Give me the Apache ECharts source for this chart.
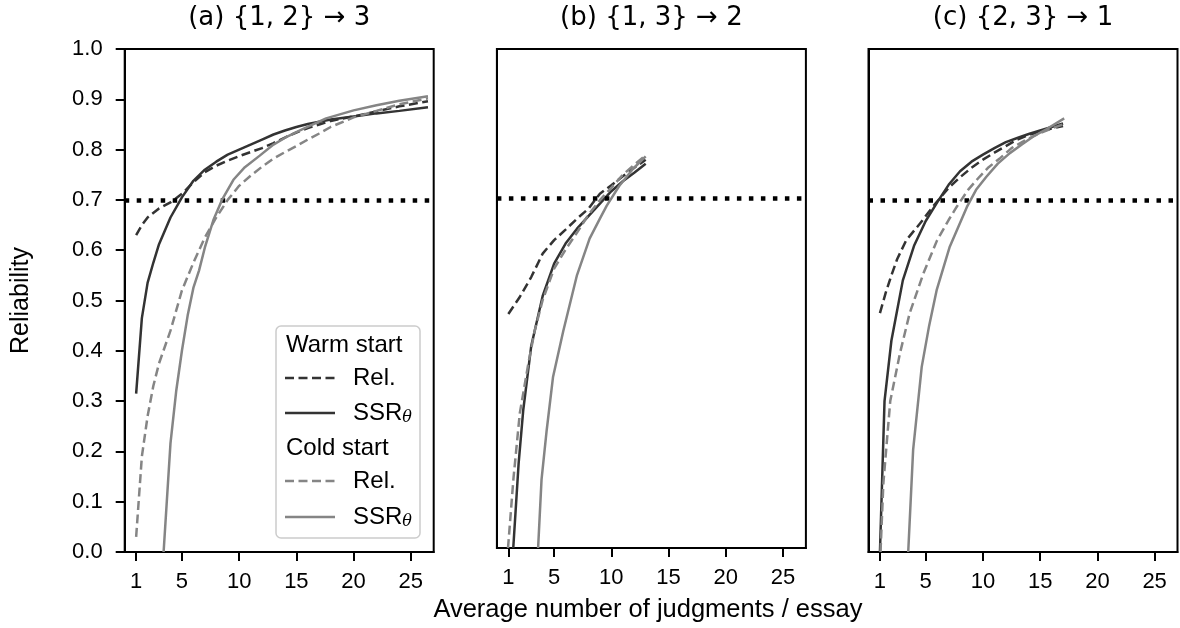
<!DOCTYPE html>
<html>
<head>
<meta charset="utf-8">
<title>Reliability</title>
<script src="https://cdn.jsdelivr.net/npm/echarts@6/dist/echarts.min.js"></script>
<style>
    html, body { margin: 0; padding: 0; background: #fff; }
    #chart { width: 1180px; height: 628px; }
</style>
</head>
<body>
<div id="chart"></div>
<script>
// 面板标题
var panelTitles = ['(a) {1, 2} \u2192 3', '(b) {1, 3} \u2192 2', '(c) {2, 3} \u2192 1'];
var xTicks = [1, 5, 10, 15, 20, 25];
var threshold = 0.7;

// (a) {1,2} -> 3   [x, reliability]
var aWarmRel = [[1,0.63],[1.5,0.65],[2,0.665],[3,0.683],[4,0.695],[5,0.712],[6,0.735],[7,0.755],[8,0.768],[9,0.778],[10,0.787],[11,0.795],[12,0.803],[13,0.813],[14,0.824],[15,0.834],[16,0.843],[17,0.85],[18,0.857],[20,0.866],[22,0.876],[24,0.886],[26.5,0.896]];
var aWarmSSR = [[1,0.315],[1.5,0.465],[2,0.535],[2.5,0.575],[3,0.612],[4,0.665],[5,0.705],[6,0.738],[7,0.76],[8,0.776],[9,0.79],[10,0.8],[11,0.81],[12,0.82],[13,0.83],[14,0.838],[15,0.845],[16,0.851],[18,0.86],[20,0.866],[22,0.872],[24,0.877],[26.5,0.884]];
var aColdRel = [[1,0.03],[1.5,0.19],[2,0.27],[2.5,0.33],[3,0.375],[4,0.44],[5,0.52],[6,0.575],[7,0.625],[8,0.665],[9,0.7],[10,0.728],[11,0.748],[12,0.766],[13,0.782],[14,0.795],[15,0.807],[16,0.82],[17,0.832],[18,0.845],[20,0.864],[22,0.877],[24,0.89],[26.5,0.902]];
var aColdSSR = [[3.4,0],[4,0.216],[4.5,0.32],[5,0.4],[5.5,0.47],[6,0.525],[6.5,0.56],[7,0.605],[7.75,0.66],[8.5,0.7],[9.5,0.74],[10.5,0.765],[11.8,0.788],[13,0.81],[14.2,0.826],[15.5,0.84],[17.6,0.862],[20,0.878],[22,0.888],[24,0.897],[26.5,0.906]];

// (b) {1,3} -> 2
var bWarmRel = [[1,0.469],[2,0.503],[3,0.543],[4,0.59],[5,0.617],[6,0.638],[7,0.66],[8,0.68],[9,0.71],[10,0.727],[11,0.745],[12,0.762],[13,0.778]];
var bWarmSSR = [[1.43,0],[1.9,0.17],[2.3,0.276],[3,0.405],[4,0.505],[5,0.57],[6,0.61],[7,0.64],[8,0.665],[9,0.69],[10,0.715],[11,0.735],[12,0.752],[13,0.77]];
var bColdRel = [[0.97,0],[1.45,0.14],[2,0.27],[2.75,0.37],[3.3,0.435],[4,0.497],[5,0.56],[6,0.598],[7,0.632],[8,0.668],[9,0.697],[10,0.722],[11,0.748],[12,0.768],[13,0.787]];
var bColdSSR = [[3.6,0],[3.9,0.137],[4.35,0.236],[4.9,0.342],[5.8,0.435],[7,0.547],[8.1,0.62],[9,0.66],[9.6,0.686],[10.7,0.726],[11.9,0.76],[13,0.785]];

// (c) {2,3} -> 1
var cWarmRel = [[1,0.475],[1.5,0.515],[2,0.55],[2.5,0.582],[3.3,0.62],[4.5,0.653],[5.6,0.686],[7,0.724],[8,0.745],[9,0.764],[10,0.78],[11,0.794],[12,0.807],[13,0.82],[14,0.829],[15,0.836],[16,0.842],[17,0.847]];
var cWarmSSR = [[1,0],[1.4,0.3],[2,0.42],[2.5,0.48],[3,0.54],[4,0.61],[5,0.658],[6,0.695],[7,0.73],[8,0.757],[9,0.776],[10,0.79],[11,0.803],[12,0.815],[13,0.823],[14,0.831],[15,0.838],[16,0.845],[17,0.852]];
var cColdRel = [[1.05,0],[1.3,0.137],[1.9,0.3],[2.75,0.395],[3.6,0.475],[4.8,0.554],[6,0.62],[7,0.66],[7.7,0.686],[8.7,0.72],[9.7,0.746],[10.5,0.765],[11.5,0.783],[12.5,0.803],[13.8,0.82],[15,0.833],[16,0.842],[17,0.85]];
var cColdSSR = [[3.47,0],[3.9,0.203],[4.65,0.368],[5.3,0.45],[5.95,0.52],[7.1,0.607],[8.6,0.686],[9.4,0.72],[10.3,0.746],[11.3,0.772],[12.35,0.793],[13.4,0.81],[14.4,0.826],[15.5,0.84],[17.1,0.862]];

var panels = [
    [aWarmRel, aWarmSSR, aColdRel, aColdSSR],
    [bWarmRel, bWarmSSR, bColdRel, bColdSSR],
    [cWarmRel, cWarmSSR, cColdRel, cColdSSR]
];

var DARK = '#333333';
var GRAY = '#858585';
var LW = 2.5;
var DASH = [9, 4.5];
var tickFont = 'Liberation Sans, Arial, sans-serif';

var gridLeft = [124.7, 496.9, 868.5];
var gridTop = 49, gridW = 309, gridH = 503;

var chart = echarts.init(document.getElementById('chart'), null, {renderer: 'canvas'});

var grids = [], xAxes = [], yAxes = [], series = [], titles = [];

for (var i = 0; i < 3; i++) {
    grids.push({
        left: gridLeft[i], top: gridTop, width: gridW, height: gridH,
        show: true, borderColor: '#000', borderWidth: 2, backgroundColor: 'transparent'
    });
    titles.push({
        text: panelTitles[i],
        left: gridLeft[i] + gridW / 2, top: 5, padding: 0,
        textAlign: 'center',
        textStyle: {fontFamily: 'DejaVu Sans', fontSize: 26, fontWeight: 'normal', color: '#000'}
    });
    xAxes.push({
        gridIndex: i, type: 'value', min: 0, max: 27,
        name: i === 1 ? 'Average number of judgments / essay' : '',
        nameLocation: 'middle', nameGap: 49,
        nameTextStyle: {fontFamily: tickFont, fontSize: 25.5, color: '#000', padding: [0, 7, 0, 0]},
        axisLine: {show: true, onZero: false, lineStyle: {color: '#000', width: 2}},
        axisTick: {show: true, length: 9, customValues: xTicks, lineStyle: {color: '#000', width: 2}},
        axisLabel: {customValues: xTicks, fontFamily: tickFont, fontSize: 22, color: '#000', margin: 19},
        splitLine: {show: false}
    });
    yAxes.push({
        gridIndex: i, type: 'value', min: 0, max: 1, interval: 0.1,
        name: i === 0 ? 'Reliability' : '',
        nameLocation: 'middle', nameGap: 91,
        nameTextStyle: {fontFamily: tickFont, fontSize: 25, color: '#000'},
        axisLine: {show: true, onZero: false, lineStyle: {color: '#000', width: 2}},
        axisTick: {show: i === 0, length: 9, lineStyle: {color: '#000', width: 2}},
        axisLabel: {
            show: i === 0, fontFamily: tickFont, fontSize: 22, color: '#000', margin: 22,
            formatter: function (v) { return v.toFixed(1); }
        },
        splitLine: {show: false}
    });

    var styles = [
        {color: DARK, type: DASH},
        {color: DARK, type: 'solid'},
        {color: GRAY, type: DASH},
        {color: GRAY, type: 'solid'}
    ];
    for (var k = 0; k < 4; k++) {
        var s = {
            type: 'line', xAxisIndex: i, yAxisIndex: i,
            data: panels[i][k], showSymbol: false, symbol: 'none',
            clip: true, smooth: false,
            lineStyle: {color: styles[k].color, width: LW, type: styles[k].type, cap: 'butt'},
            z: 2 + k
        };
        // 0.7 可靠性阈值
        if (k === 3) {
            s.markLine = {
                silent: true, symbol: 'none', animation: false,
                label: {show: false},
                lineStyle: {color: '#000', width: 4.5, type: [4.5, 7.5], cap: 'butt'},
                data: [{yAxis: threshold}]
            };
        }
        series.push(s);
    }
}

// 图例（带分组标题）
var lgFont = 'Liberation Sans, Arial, sans-serif';
function legLine(y, color, dash) {
    return {
        type: 'line', shape: {x1: 285, y1: y, x2: 335, y2: y},
        style: {stroke: color, lineWidth: LW, lineDash: dash, lineCap: 'butt'}
    };
}
function legText(x, y, txt) {
    return {
        type: 'text', x: x, y: y,
        style: {
            text: txt, fill: '#000', font: '24px ' + lgFont, verticalAlign: 'middle',
            rich: {s: {fontSize: 16, fontStyle: 'italic', fontFamily: 'DejaVu Serif', padding: [10, 0, 0, 0]}}
        }
    };
}
var legendGraphic = {
    type: 'group', z: 100,
    children: [
        {type: 'rect', shape: {x: 276, y: 326, width: 144, height: 212, r: 5},
            style: {fill: 'rgba(255,255,255,0.85)', stroke: '#cccccc', lineWidth: 1.5}},
        legText(286, 345, 'Warm start'),
        legLine(378, DARK, DASH), legText(353, 378, 'Rel.'),
        legLine(413, DARK, null), legText(353, 413, 'SSR{s|\u03b8}'),
        legText(286, 448, 'Cold start'),
        legLine(481, GRAY, DASH), legText(353, 481, 'Rel.'),
        legLine(517, GRAY, null), legText(353, 517, 'SSR{s|\u03b8}')
    ]
};

chart.setOption({
    animation: false,
    backgroundColor: '#fff',
    title: titles,
    grid: grids,
    xAxis: xAxes,
    yAxis: yAxes,
    series: series,
    graphic: [legendGraphic]
});
</script>
</body>
</html>
